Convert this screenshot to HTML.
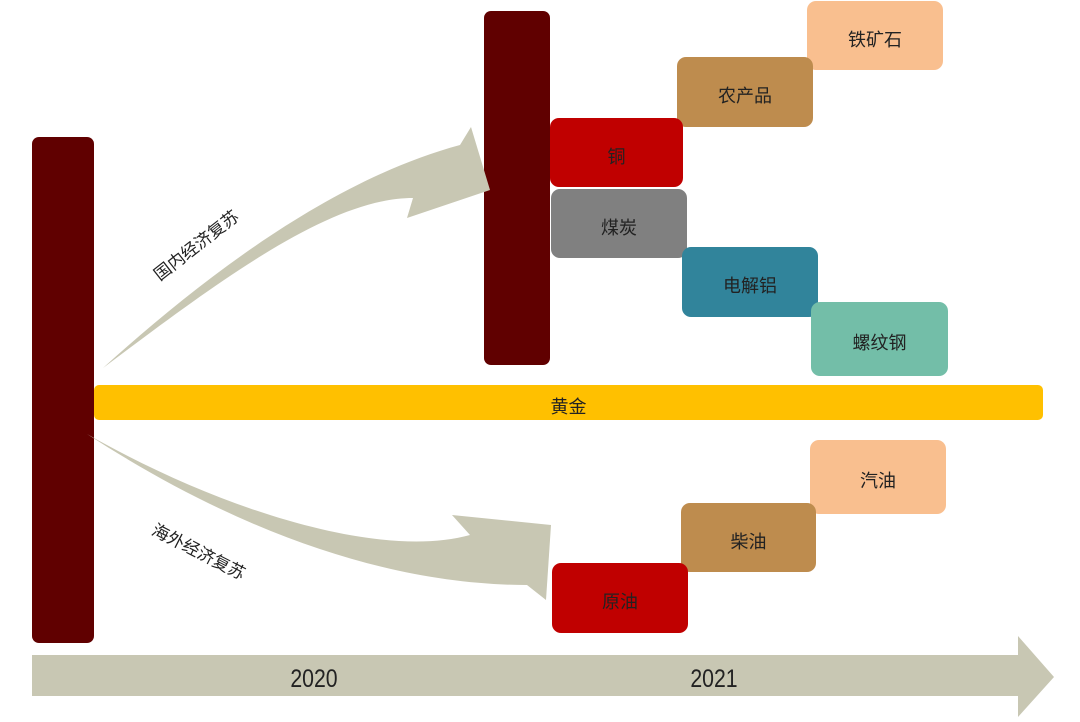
<!DOCTYPE html>
<html><head><meta charset="utf-8"><style>
body{margin:0;width:1080px;height:722px;background:#fff;position:relative;overflow:hidden;font-family:"Liberation Sans","Noto Sans CJK SC",sans-serif}
.b{position:absolute;border-radius:9px;display:flex;align-items:center;justify-content:center;font-size:18px;color:#222;padding-top:6px;box-sizing:border-box}
</style></head><body>
<div class="b" style="left:32px;top:137px;width:62px;height:506px;background:#600000;border-radius:7px"></div>
<div class="b" style="left:484px;top:11px;width:66px;height:354px;background:#600000;border-radius:7px"></div>
<svg width="1080" height="722" style="position:absolute;left:0;top:0">
<path d="M103,368 C200,280 330,180 460,145 L471,127 L490,190 L407,218 L413,198 C330,198 220,280 103,368 Z" fill="#c8c7b3"/>
<path d="M87,434 C220,510 380,560 470,535 L452,515 L551,525 L546,600 L527,585 C400,585 250,540 87,434 Z" fill="#c8c7b3"/>
<path d="M32,655 L1018,655 L1018,636 L1054,677 L1018,717 L1018,696 L32,696 Z" fill="#c8c7b3"/>
<text x="314" y="687" font-size="25" text-anchor="middle" fill="#222" transform="translate(314,0) scale(0.85,1) translate(-314,0)" font-family="Liberation Sans, sans-serif">2020</text>
<text x="714" y="687" font-size="25" text-anchor="middle" fill="#222" transform="translate(714,0) scale(0.85,1) translate(-714,0)" font-family="Liberation Sans, sans-serif">2021</text>
<text transform="translate(200,250) rotate(-38)" font-size="17" text-anchor="middle" fill="#222" font-family="Liberation Sans, Noto Sans CJK SC, sans-serif">国内经济复苏</text>
<text transform="translate(196,557) rotate(27)" font-size="17" text-anchor="middle" fill="#222" font-family="Liberation Sans, Noto Sans CJK SC, sans-serif">海外经济复苏</text>
</svg>
<div class="b" style="left:94px;top:385px;width:949px;height:35px;background:#ffc000;border-radius:5px">黄金</div>
<div class="b" style="left:807px;top:1px;width:136px;height:69px;background:#f9bf8f">铁矿石</div>
<div class="b" style="left:677px;top:57px;width:136px;height:70px;background:#be8c4e">农产品</div>
<div class="b" style="left:550px;top:118px;width:133px;height:69px;background:#c00000">铜</div>
<div class="b" style="left:551px;top:189px;width:136px;height:69px;background:#808080">煤炭</div>
<div class="b" style="left:682px;top:247px;width:136px;height:70px;background:#31849b">电解铝</div>
<div class="b" style="left:811px;top:302px;width:137px;height:74px;background:#73bea8">螺纹钢</div>
<div class="b" style="left:810px;top:440px;width:136px;height:74px;background:#f9bf8f">汽油</div>
<div class="b" style="left:681px;top:503px;width:135px;height:69px;background:#be8c4e">柴油</div>
<div class="b" style="left:552px;top:563px;width:136px;height:70px;background:#c00000">原油</div>
</body></html>
